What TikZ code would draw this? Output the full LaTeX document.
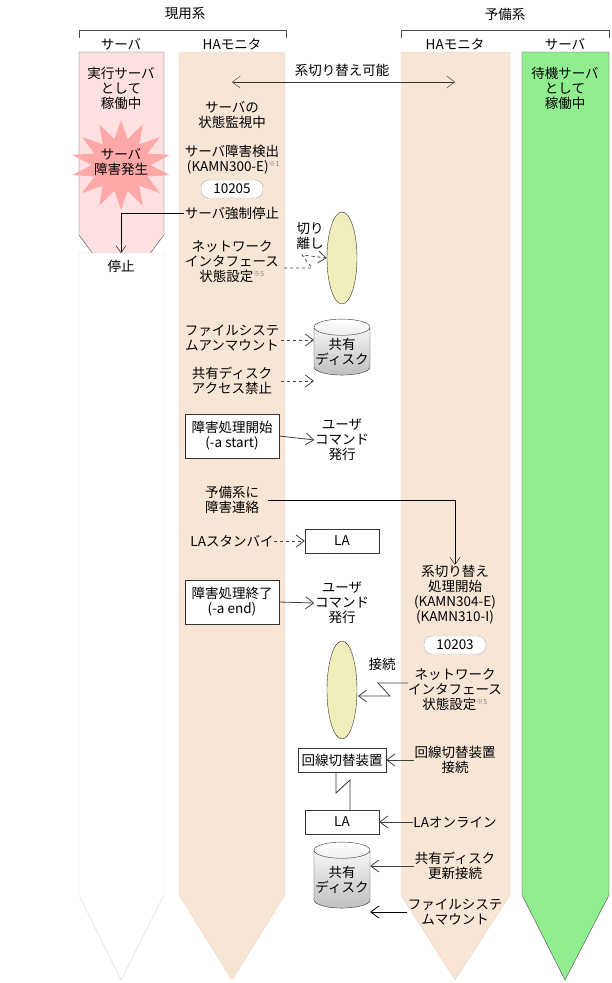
\documentclass[tikz,border=0pt]{standalone}
\usepackage{fontspec}
\setmainfont{Noto Sans CJK JP}
\usetikzlibrary{shapes.geometric,shapes.symbols,arrows.meta}
\definecolor{peach}{HTML}{F7E6D5}
\definecolor{peachb}{HTML}{EBD3BE}
\definecolor{pinkf}{HTML}{FFE0E0}
\definecolor{burst}{HTML}{FFA8A8}
\definecolor{greenf}{HTML}{90EE90}
\definecolor{ellf}{HTML}{F0EEBB}
\begin{document}
\begin{tikzpicture}[x=1pt,y=-1pt,
  every node/.style={font=\fontsize{13.5}{15}\selectfont,align=center,inner sep=0.5pt},
  box/.style={draw=black!80,fill=white,inner sep=3pt},
  rbox/.style={draw=black!30,fill=white,rounded corners=8pt,minimum width=62pt,minimum height=18pt},
  ell/.style={draw=black!80,fill=ellf,ellipse},
  cyl/.style={cylinder,shape border rotate=90,aspect=0.3,draw=black!80,top color=white,bottom color=black!25,minimum width=56pt},
  arr/.style={-{Straight Barb[length=8pt,width=12pt]},draw=black!75,thick},
  darr/.style={arr,dashed}]
\useasboundingbox (0,0) rectangle (611,983);
% headers
\node (h1) at (185,14) {現用系};
\node (h2) at (505,14) {予備系};
\draw[black!70] (79,38) -- (79,30) -- (286,30) -- (286,38);
\draw[black!70] (401,38) -- (401,30) -- (609,30) -- (609,38);
\node at (121,44) {サーバ};
\node at (232,44) {HAモニタ};
\node at (455,44) {HAモニタ};
\node at (565,44) {サーバ};
% columns
\draw[black!70,fill=pinkf] (79,52) -- (164,52) -- (164,235) -- (121,292) -- (79,235) -- cycle;
\draw[black!15,fill=white] (79,253) -- (164,253) -- (164,895) -- (121,980) -- (79,895) -- cycle;
\draw[peachb,fill=peach] (179,52) -- (285,52) -- (285,895) -- (232,980) -- (179,895) -- cycle;
\draw[peachb,fill=peach] (401,52) -- (510,52) -- (510,895) -- (455,980) -- (401,895) -- cycle;
\draw[black!70,fill=greenf] (522,52) -- (609,52) -- (609,895) -- (565,980) -- (522,895) -- cycle;
\node at (121,88) {実行サーバ\\として\\稼働中};
\node at (565,88) {待機サーバ\\として\\稼働中};
\node[star,star points=14,star point ratio=1.7,fill=burst,draw=none,minimum size=100pt,yscale=0.9] (burst) at (121,165) {};
\node at (121,162) {サーバ\\障害発生};
\node at (121,266) {停止};
% double arrow
\node (sw) at (342,70) {系切り替え可能};
\coordinate (da) at (232,82); \coordinate (db) at (455,82);
\draw[{Straight Barb[length=8pt,width=12pt]}-{Straight Barb[length=8pt,width=12pt]},black!80] (da) -- (db);
\node at (232,115) {サーバの\\状態監視中};
\node at (232,160) {サーバ障害検出\\\ (KAMN300-E)\textsuperscript{\textcolor{gray}{\scriptsize ※1}}};
\node[rbox] (r1) at (232,189) {10205};
\node (stop) at (232,213) {サーバ強制停止};
\coordinate (sp) at (121,213);
\coordinate (sq) at (121,253);
\draw[-{Straight Barb[length=7pt,width=10pt]},black] (stop.west) -- (sp) -- (sq);
% network isolate
\node at (310,236) {切り\\離し};
\node[ell,minimum width=30pt,minimum height=92pt] (e1) at (342,258) {};
\node (ni) at (232,262) {ネットワーク\\インタフェース\\状態設定\textsuperscript{\textcolor{gray}{\scriptsize ※5}}};
\coordinate (n1) at (284,268); \coordinate (n2) at (312,268); \coordinate (n3) at (302,255);
\draw[darr] (n1) -- (n2) -- (n3) -- (e1.west);
% disk 1
\node[cyl,minimum height=56pt] (c1) at (342,352) {共有\\ディスク};
\node (fu) at (232,338) {ファイルシステ\\ムアンマウント};
\node (da1) at (232,381) {共有ディスク\\アクセス禁止};
\coordinate (f1) at (281,340); \coordinate (f2) at (314,340);
\coordinate (g1) at (281,381); \coordinate (g2) at (314,381);
\draw[darr] (f1) -- (f2);
\draw[darr] (g1) -- (g2);
% start
\node[box,minimum width=94pt,minimum height=44pt] (bs) at (232,436) {障害処理開始\\(-a start)};
\node (uc1) at (342,440) {ユーザ\\コマンド\\発行};
\draw[arr] (bs.east) -- (uc1.west);
\node (nt) at (232,500) {予備系に\\障害連絡};
\node (sw2) at (455,595) {系切り替え\\処理開始\\(KAMN304-E)\\(KAMN310-I)};
\coordinate (t1) at (268,500); \coordinate (t2) at (455,500);
\draw[-{Straight Barb[length=7pt,width=10pt]},black] (t1) -- (t2) -- (sw2.north);
\node (las) at (232,541) {LAスタンバイ};
\node[box,minimum width=74pt,minimum height=24pt] (la1) at (342,541) {LA};
\draw[darr] (las.east) -- (la1.west);
\node[box,minimum width=94pt,minimum height=44pt] (be) at (232,602) {障害処理終了\\(-a end)};
\node (uc2) at (342,603) {ユーザ\\コマンド\\発行};
\draw[arr] (be.east) -- (uc2.west);
\node[rbox] (r2) at (455,645) {10203};
% network connect
\node[ell,minimum width=30pt,minimum height=98pt] (e2) at (342,690) {};
\node at (382,664) {接続};
\node (nc) at (455,690) {ネットワーク\\インタフェース\\状態設定\textsuperscript{\textcolor{gray}{\scriptsize ※5}}};
\coordinate (m1) at (408,683); \coordinate (m2) at (378,683); \coordinate (m3) at (390,696); \coordinate (m4) at (358,696);
\draw[arr] (m1) -- (m2) -- (m3) -- (m4);
\node[box,minimum width=88pt,minimum height=24pt] (kb) at (342,760) {回線切替装置};
\node (kc) at (455,760) {回線切替装置\\接続};
\draw[arr] (kc.west) -- (kb.east);
\node[box,minimum width=74pt,minimum height=24pt] (la2) at (342,822) {LA};
\coordinate (z1) at (336,773); \coordinate (z2) at (336,793); \coordinate (z3) at (350,780); \coordinate (z4) at (350,810);
\draw[black!80,thick] (z1) -- (z2) -- (z3) -- (z4);
\node (lo) at (455,822) {LAオンライン};
\draw[arr] (lo.west) -- (la2.east);
\node[cyl,minimum height=66pt] (c2) at (342,880) {共有\\ディスク};
\node (du) at (455,866) {共有ディスク\\更新接続};
\node (fm) at (455,912) {ファイルシステ\\ムマウント};
\draw[arr] (du.west) -- (c2.east |- du.west);
\draw[arr,draw=black] (fm.west) -- (c2.east |- fm.west);
\end{tikzpicture}
\end{document}
